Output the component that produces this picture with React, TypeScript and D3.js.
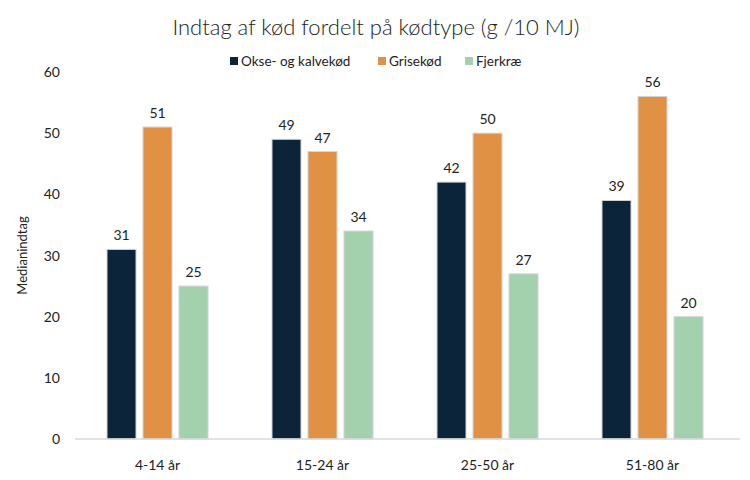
import * as d3 from 'd3'

const categories = ['4-14 år', '15-24 år', '25-50 år', '51-80 år']
const seriesNames = ['Okse- og kalvekød', 'Grisekød', 'Fjerkræ']
const okse = [31, 49, 42, 39]
const grise = [51, 47, 50, 56]
const fjerkrae = [25, 34, 27, 20]
const yTicks = [0, 10, 20, 30, 40, 50, 60]
const colors = ['#0b243a', '#e09144', '#a3d0ad']

const W = 750
const H = 480
const font = 'Lato, "Open Sans", sans-serif'

export default function App() {
  const values = [okse, grise, fjerkrae]
  const x = d3.scaleBand<string>().domain(categories).range([75, 735])
  const y = d3.scaleLinear().domain([0, 60]).range([439, 72])
  const barW = 29
  const gap = 7
  const offset = (i: number) => (i - 1) * (barW + gap) - barW / 2

  const legendX = [230, 378, 465]

  return (
    <svg width={W} height={H} style={{ display: 'block', margin: -8, background: '#fff' }} fontFamily={font}>
      <text x={376} y={35} textAnchor="middle" fontSize={22} fontWeight={300} fill="#222">
        Indtag af kød fordelt på kødtype (g /10 MJ)
      </text>

      {seriesNames.map((s, i) => (
        <g key={s}>
          <rect x={legendX[i]} y={57} width={8} height={8} fill={colors[i]} />
          <text x={legendX[i] + 11} y={65.5} fontSize={13.5} fill="#222">{s}</text>
        </g>
      ))}

      {yTicks.map(t => (
        <text key={t} x={60} y={y(t) + 5} textAnchor="end" fontSize={14} fill="#222">{t}</text>
      ))}

      <text transform={`translate(27,${y(30)}) rotate(-90)`} textAnchor="middle" fontSize={13} fill="#222">
        Medianindtag
      </text>

      {categories.map((c, ci) => {
        const cx = (x(c) ?? 0) + x.bandwidth() / 2
        return (
          <g key={c}>
            {values.map((vals, si) => {
              const v = vals[ci]
              const bx = cx + offset(si)
              return (
                <g key={si}>
                  <rect x={bx} y={y(v)} width={barW} height={y(0) - y(v)} fill={colors[si]} stroke="#d4d4d4" strokeWidth={1} />
                  <text x={bx + barW / 2} y={y(v) - 9} textAnchor="middle" fontSize={14} fill="#222">{v}</text>
                </g>
              )
            })}
            <text x={cx} y={470} textAnchor="middle" fontSize={14} fill="#222">{c}</text>
          </g>
        )
      })}

      <line x1={75} x2={740} y1={y(0)} y2={y(0)} stroke="#d9d9d9" strokeWidth={1.5} />
    </svg>
  )
}
